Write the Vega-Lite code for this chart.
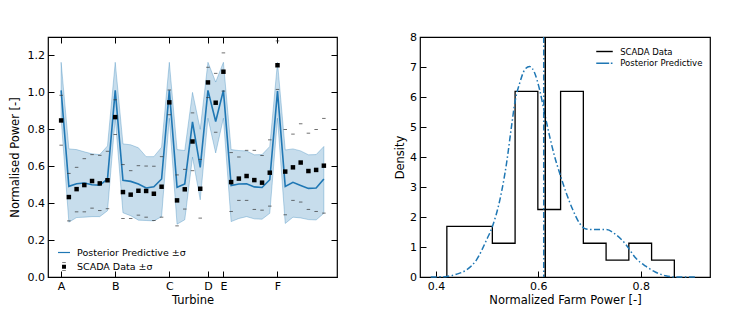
{
 "$schema": "https://vega.github.io/schema/vega-lite/v6.json",
 "padding": {"left": 8, "top": 30, "right": 5, "bottom": 0},
 "spacing": 54,
 "resolve": {"scale": {"color": "independent", "shape": "independent"}, "legend": {"color": "independent", "shape": "independent"}},
 "config": {
  "font": "DejaVu Sans",
  "view": {"stroke": "black", "strokeWidth": 1.2},
  "axis": {"domain": false, "grid": false, "labelOverlap": false, "tickColor": "black", "tickSize": -6, "tickWidth": 1, "labelPadding": 9.5, "labelFontSize": 11, "labelColor": "black", "labelFont": "DejaVu Sans", "titleFontSize": 11.5, "titleFontWeight": "normal", "titleColor": "black", "titleFont": "DejaVu Sans"},
  "legend": {"labelFont": "DejaVu Sans", "labelColor": "black", "padding": 0, "symbolOpacity": 1, "title": null}
 },
 "datasets": {
  "turb": [
   {"idx":0,"m":1.011,"lo":0.86,"hi":1.163,"s":0.848,"up":0.984,"dn":0.714},
   {"idx":1,"m":0.491,"lo":0.297,"hi":0.694,"s":0.433,"up":0.561,"dn":0.304},
   {"idx":2,"m":0.505,"lo":0.322,"hi":0.69,"s":0.476,"up":0.594,"dn":0.353},
   {"idx":3,"m":0.509,"lo":0.324,"hi":0.678,"s":0.498,"up":0.641,"dn":0.353},
   {"idx":4,"m":0.5,"lo":0.327,"hi":0.667,"s":0.52,"up":0.663,"dn":0.373},
   {"idx":5,"m":0.497,"lo":0.327,"hi":0.663,"s":0.507,"up":0.659,"dn":0.36},
   {"idx":6,"m":0.531,"lo":0.359,"hi":0.71,"s":0.524,"up":0.681,"dn":0.37},
   {"idx":7,"m":1.011,"lo":0.86,"hi":1.163,"s":0.866,"up":0.96,"dn":0.772},
   {"idx":8,"m":0.524,"lo":0.348,"hi":0.721,"s":0.46,"up":0.609,"dn":0.317},
   {"idx":9,"m":0.518,"lo":0.332,"hi":0.716,"s":0.446,"up":0.576,"dn":0.317},
   {"idx":10,"m":0.504,"lo":0.308,"hi":0.7,"s":0.467,"up":0.603,"dn":0.335},
   {"idx":11,"m":0.482,"lo":0.306,"hi":0.652,"s":0.466,"up":0.601,"dn":0.324},
   {"idx":12,"m":0.489,"lo":0.304,"hi":0.652,"s":0.451,"up":0.6,"dn":0.306},
   {"idx":13,"m":0.531,"lo":0.327,"hi":0.703,"s":0.489,"up":0.652,"dn":0.324},
   {"idx":14,"m":1.011,"lo":0.86,"hi":1.163,"s":0.946,"up":1.013,"dn":0.879},
   {"idx":15,"m":0.486,"lo":0.286,"hi":0.69,"s":0.415,"up":0.553,"dn":0.277},
   {"idx":16,"m":0.504,"lo":0.31,"hi":0.685,"s":0.475,"up":0.583,"dn":0.368},
   {"idx":17,"m":0.84,"lo":0.649,"hi":1.0,"s":0.734,"up":0.889,"dn":0.576},
   {"idx":18,"m":0.594,"lo":0.418,"hi":0.8,"s":0.478,"up":0.637,"dn":0.319},
   {"idx":19,"m":1.011,"lo":0.86,"hi":1.163,"s":1.054,"up":1.136,"dn":0.972},
   {"idx":20,"m":0.842,"lo":0.672,"hi":1.056,"s":0.944,"up":1.103,"dn":0.784},
   {"idx":21,"m":1.011,"lo":0.86,"hi":1.163,"s":1.112,"up":1.214,"dn":1.007},
   {"idx":22,"m":0.496,"lo":0.3,"hi":0.69,"s":0.514,"up":0.674,"dn":0.355},
   {"idx":23,"m":0.504,"lo":0.317,"hi":0.685,"s":0.533,"up":0.65,"dn":0.415},
   {"idx":24,"m":0.505,"lo":0.327,"hi":0.683,"s":0.547,"up":0.686,"dn":0.415},
   {"idx":25,"m":0.488,"lo":0.315,"hi":0.662,"s":0.525,"up":0.686,"dn":0.366},
   {"idx":26,"m":0.485,"lo":0.313,"hi":0.663,"s":0.511,"up":0.658,"dn":0.362},
   {"idx":27,"m":0.527,"lo":0.345,"hi":0.707,"s":0.565,"up":0.743,"dn":0.384},
   {"idx":28,"m":1.007,"lo":0.86,"hi":1.163,"s":1.147,"up":1.279,"dn":1.016},
   {"idx":29,"m":0.49,"lo":0.29,"hi":0.688,"s":0.571,"up":0.799,"dn":0.337},
   {"idx":30,"m":0.513,"lo":0.324,"hi":0.694,"s":0.594,"up":0.774,"dn":0.415},
   {"idx":31,"m":0.496,"lo":0.32,"hi":0.683,"s":0.62,"up":0.83,"dn":0.406},
   {"idx":32,"m":0.48,"lo":0.311,"hi":0.662,"s":0.574,"up":0.779,"dn":0.366},
   {"idx":33,"m":0.482,"lo":0.309,"hi":0.663,"s":0.58,"up":0.799,"dn":0.355},
   {"idx":34,"m":0.531,"lo":0.345,"hi":0.707,"s":0.603,"up":0.859,"dn":0.346}
  ],
  "hist": [
   {"i":0,"x":0.4214,"d":0},
   {"i":1,"x":0.4214,"d":1.688},
   {"i":2,"x":0.4658,"d":1.688},
   {"i":3,"x":0.5102,"d":1.125},
   {"i":4,"x":0.5546,"d":6.188},
   {"i":5,"x":0.599,"d":2.25},
   {"i":6,"x":0.6434,"d":6.188},
   {"i":7,"x":0.6878,"d":1.125},
   {"i":8,"x":0.7322,"d":0.563},
   {"i":9,"x":0.7766,"d":1.125},
   {"i":10,"x":0.821,"d":0.563},
   {"i":11,"x":0.8654,"d":0}
  ],
  "kde": [
   {"x":0.39,"d":0},{"x":0.402,"d":0.003},{"x":0.4214,"d":0.02},{"x":0.44,"d":0.09},{"x":0.46,"d":0.24},
   {"x":0.4796,"d":0.58},{"x":0.499,"d":1.24},{"x":0.51,"d":1.67},{"x":0.525,"d":2.58},{"x":0.538,"d":3.8},
   {"x":0.5476,"d":5.02},{"x":0.5546,"d":5.86},{"x":0.5637,"d":6.47},{"x":0.5734,"d":6.91},{"x":0.583,"d":7.02},
   {"x":0.5928,"d":6.8},{"x":0.6025,"d":6.24},{"x":0.612,"d":5.47},{"x":0.622,"d":4.69},{"x":0.6317,"d":4.02},
   {"x":0.6414,"d":3.47},{"x":0.6544,"d":2.8},{"x":0.6673,"d":2.24},{"x":0.6802,"d":1.8},{"x":0.6932,"d":1.6},
   {"x":0.7126,"d":1.58},{"x":0.732,"d":1.58},{"x":0.7515,"d":1.41},{"x":0.771,"d":1.08},{"x":0.79,"d":0.63},
   {"x":0.8097,"d":0.36},{"x":0.829,"d":0.16},{"x":0.8485,"d":0.04},{"x":0.868,"d":0.0},{"x":0.907,"d":0}
  ]
 },
 "hconcat": [
  {
   "width": 289, "height": 240,
   "layer": [
    {
     "data": {"name": "turb"},
     "mark": {"type": "area", "color": "#1f77b4", "fillOpacity": 0.25, "stroke": "#1f77b4", "strokeOpacity": 0.3, "strokeWidth": 1},
     "encoding": {
      "x": {"field": "idx", "type": "quantitative", "scale": {"domain": [-1.7, 35.7], "nice": false, "zero": false},
            "axis": {"orient": "bottom", "title": "Turbine", "values": [0, 7, 14, 19, 21, 28], "labelExpr": "['A','B','C','D','E','F'][indexof([0,7,14,19,21,28], datum.value)]", "titlePadding": 3}},
      "y": {"field": "lo", "type": "quantitative", "scale": {"domain": [0, 1.3], "nice": false},
            "axis": {"orient": "left", "title": "Normalised Power [-]", "values": [0, 0.2, 0.4, 0.6, 0.8, 1.0, 1.2], "format": ".1f", "titlePadding": 7}},
      "y2": {"field": "hi"}
     }
    },
    {
     "data": {"name": "turb"},
     "mark": {"type": "line", "color": "#1f77b4", "strokeWidth": 1.6},
     "encoding": {
      "x": {"field": "idx", "type": "quantitative", "axis": {"orient": "top", "labels": false, "title": null, "values": [0, 7, 14, 19, 21, 28]}},
      "y": {"field": "m", "type": "quantitative", "axis": {"orient": "right", "labels": false, "title": null, "values": [0, 0.2, 0.4, 0.6, 0.8, 1.0, 1.2]}}
     }
    },
    {
     "data": {"name": "turb"},
     "transform": [{"fold": ["up", "dn"], "as": ["k", "v"]}],
     "mark": {"type": "tick", "orient": "horizontal", "color": "#333333", "size": 3.5, "thickness": 1},
     "encoding": {
      "x": {"field": "idx", "type": "quantitative", "axis": null},
      "y": {"field": "v", "type": "quantitative", "axis": null}
     }
    },
    {
     "data": {"name": "turb"},
     "mark": {"type": "point", "shape": "square", "filled": true, "color": "black", "size": 20, "opacity": 1},
     "encoding": {
      "x": {"field": "idx", "type": "quantitative", "axis": null},
      "y": {"field": "s", "type": "quantitative", "axis": null}
     }
    },
    {
     "data": {"values": [{"series": "Posterior Predictive ±σ"}, {"series": "SCADA Data ±σ"}]},
     "mark": {"type": "point", "filled": true, "opacity": 0},
     "encoding": {
      "color": {"field": "series", "type": "nominal", "scale": {"domain": ["Posterior Predictive ±σ", "SCADA Data ±σ"], "range": ["#1f77b4", "black"]},
                "legend": {"orient": "none", "legendX": 9, "legendY": 208.5, "labelFontSize": 9.5, "symbolSize": 144, "labelOffset": 6, "rowPadding": 1.3, "symbolOpacity": 1}},
      "shape": {"field": "series", "type": "nominal", "scale": {"domain": ["Posterior Predictive ±σ", "SCADA Data ±σ"], "range": ["M-1,-0.1H1V0.1H-1Z", "M-0.33,-0.33H0.33V0.33H-0.33Z M-0.3,-0.72H0.3V-0.62H-0.3Z M-0.3,0.62H0.3V0.72H-0.3Z"]}}
     }
    }
   ]
  },
  {
   "width": 290, "height": 240,
   "layer": [
    {
     "data": {"name": "hist"},
     "mark": {"type": "line", "interpolate": "step-after", "color": "black", "strokeWidth": 1.3},
     "encoding": {
      "x": {"field": "x", "type": "quantitative", "scale": {"domain": [0.369, 0.935], "nice": false, "zero": false},
            "axis": {"orient": "bottom", "title": "Normalized Farm Power [-]", "values": [0.4, 0.6, 0.8], "format": ".1f", "titlePadding": 3}},
      "y": {"field": "d", "type": "quantitative", "scale": {"domain": [0, 8], "nice": false},
            "axis": {"orient": "left", "title": "Density", "values": [0, 1, 2, 3, 4, 5, 6, 7, 8], "format": "d", "titlePadding": 4}},
      "order": {"field": "i", "type": "quantitative"}
     }
    },
    {
     "data": {"name": "kde"},
     "mark": {"type": "line", "interpolate": "monotone", "color": "#1f77b4", "strokeWidth": 1.5, "strokeDash": [6, 2.5, 1.5, 2.5]},
     "encoding": {
      "x": {"field": "x", "type": "quantitative",
            "axis": {"orient": "bottom", "title": "Normalized Farm Power [-]", "values": [0.4, 0.6, 0.8], "format": ".1f", "titlePadding": 3}},
      "y": {"field": "d", "type": "quantitative",
            "axis": {"orient": "left", "title": "Density", "values": [0, 1, 2, 3, 4, 5, 6, 7, 8], "format": "d", "titlePadding": 4}}
     }
    },
    {
     "data": {"values": [{"x": 0.6105}]},
     "mark": {"type": "rule", "color": "#1f77b4", "strokeWidth": 1.5, "strokeDash": [6, 2.5, 1.5, 2.5]},
     "encoding": {"x": {"field": "x", "type": "quantitative",
            "axis": {"orient": "bottom", "title": "Normalized Farm Power [-]", "values": [0.4, 0.6, 0.8], "format": ".1f", "titlePadding": 3}}}
    },
    {
     "data": {"values": [{"x": 0.6135}]},
     "mark": {"type": "rule", "color": "black", "strokeWidth": 1.5},
     "encoding": {"x": {"field": "x", "type": "quantitative",
            "axis": {"orient": "bottom", "title": "Normalized Farm Power [-]", "values": [0.4, 0.6, 0.8], "format": ".1f", "titlePadding": 3}}}
    },
    {
     "data": {"values": [{"series": "SCADA Data"}, {"series": "Posterior Predictive"}]},
     "mark": {"type": "point", "filled": true, "opacity": 0},
     "encoding": {
      "color": {"field": "series", "type": "nominal", "scale": {"domain": ["SCADA Data", "Posterior Predictive"], "range": ["black", "#1f77b4"]},
                "legend": {"orient": "none", "legendX": 178, "legendY": 8, "labelFontSize": 8.5, "symbolSize": 121, "labelOffset": 9.2, "rowPadding": 0.7, "symbolOpacity": 1}},
      "shape": {"field": "series", "type": "nominal", "scale": {"domain": ["SCADA Data", "Posterior Predictive"], "range": ["M-1.5,-0.13H1.5V0.13H-1.5Z", "M-1.5,-0.13H0.85V0.13H-1.5Z M1.15,-0.13H1.45V0.13H1.15Z"]}}
     }
    }
   ]
  }
 ]
}
